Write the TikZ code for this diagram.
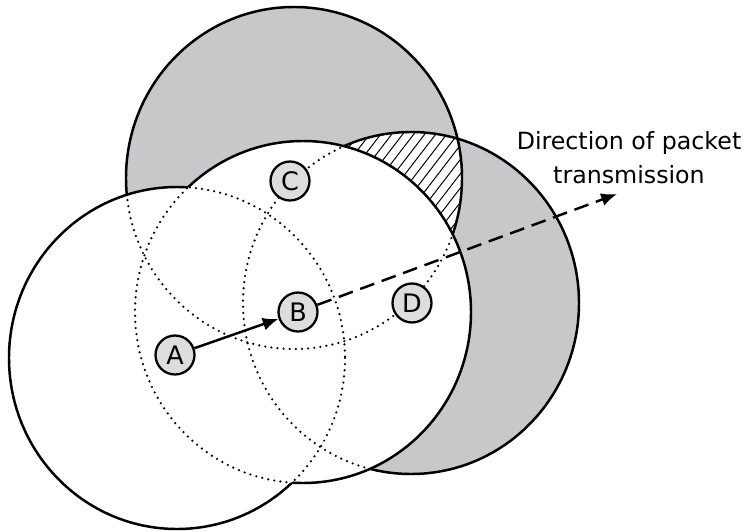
\documentclass[tikz,border=0pt]{standalone}
\usepackage{fontspec}
\setmainfont{DejaVu Sans}
\usetikzlibrary{arrows.meta}

\definecolor{zonegray}{RGB}{200,200,202}
\definecolor{nodefill}{RGB}{221,221,223}

% coverage areas of the four stations
\def\rangeA{(177,358) circle [x radius=168, y radius=171]}
\def\rangeB{(303,312) circle [x radius=168, y radius=171]}
\def\rangeC{(294,178) circle [x radius=168, y radius=171]}
\def\rangeD{(411,303) circle [x radius=168, y radius=171]}

\begin{document}
\begin{tikzpicture}[
    x=0.02cm, y=-0.02cm,
    station/.style={circle, draw=black, line width=1.3pt, fill=nodefill, minimum size=0.78cm, inner sep=0pt, font=\fontsize{14.5}{16}\selectfont},
    coverage/.style={line width=1.4pt},
    hidden/.style={line width=1.4pt, line cap=round, dash pattern=on 0pt off 3.5pt},
    hatch/.style={line width=0.55pt},
    arr/.style={-{Latex[length=9pt, width=7.5pt]}, line width=1.4pt},
    caption/.style={align=center, inner sep=0pt, font=\fontsize{13.5}{19.3}\selectfont}
]
\useasboundingbox (0,0) rectangle (744,531);

% shaded areas
\fill[zonegray] \rangeC;
\fill[zonegray] \rangeD;
\begin{scope}
  \clip \rangeC;
  \clip \rangeD;
  \fill[white] \rangeD;
  \foreach \x in {240,251,...,480}
    \draw[hatch] (\x,260) -- ++(110,-143);
\end{scope}
\draw[coverage] \rangeC;
\draw[coverage] \rangeD;

% white area covered by A and B
\fill[white] \rangeA;
\fill[white] \rangeB;
\draw[hidden] \rangeA;
\draw[hidden] \rangeB;
\draw[hidden] \rangeC;
\draw[hidden] \rangeD;
\begin{scope}[even odd rule]
  \clip (0,0) rectangle (744,531) \rangeB;
  \draw[coverage] \rangeA;
\end{scope}
\begin{scope}[even odd rule]
  \clip (0,0) rectangle (744,531) \rangeA;
  \draw[coverage] \rangeB;
\end{scope}

% stations
\node[station] (A) at (175,355) {A};
\node[station] (B) at (298,312) {B};
\node[station] (C) at (290,181) {C};
\node[station] (D) at (412,303) {D};

\coordinate (dirtip) at (617,194);
\node[caption] (dirlabel) at (629,131) [anchor=north] {Direction of packet\\transmission};

\draw[arr] (A) -- (B);
\draw[arr, dash pattern=on 8.5pt off 4.5pt] (B) -- (dirtip);
\end{tikzpicture}
\end{document}
